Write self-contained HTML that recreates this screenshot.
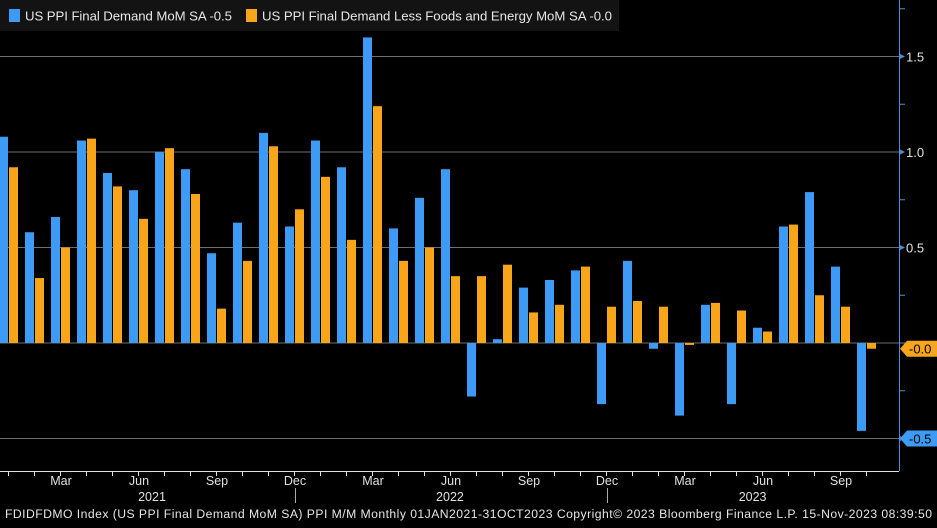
<!DOCTYPE html>
<html><head><meta charset="utf-8"><style>
body{margin:0;background:#000;width:937px;height:523px;overflow:hidden;font-family:"Liberation Sans",sans-serif}
svg text{font-family:"Liberation Sans",sans-serif}
</style></head><body>
<svg id="chart" width="937" height="523" xmlns="http://www.w3.org/2000/svg">
<rect x="0" y="0" width="937" height="523" fill="#000"/>
<g id="grid"></g><g id="bars"></g><g id="axes"></g>
<g>
<rect x="0" y="0" width="619" height="31" fill="#131313"/>
<rect x="9" y="9" width="11" height="13" fill="#3d9bf5"/>
<text x="25" y="20.5" fill="#e6e6e6" font-size="13.2" textLength="207">US PPI Final Demand MoM SA -0.5</text>
<rect x="246" y="9" width="11" height="13" fill="#f9a51a"/>
<text x="262" y="20.5" fill="#e6e6e6" font-size="13.2" textLength="350">US PPI Final Demand Less Foods and Energy MoM SA -0.0</text>
</g>
<text x="5" y="518" fill="#e6e6e6" font-size="12.2" textLength="927">FDIDFDMO Index (US PPI Final Demand MoM SA) PPI M/M  Monthly 01JAN2021-31OCT2023  Copyright© 2023 Bloomberg Finance L.P.  15-Nov-2023 08:39:50</text>
</svg>
<script>
const months=["Jan","Feb","Mar","Apr","May","Jun","Jul","Aug","Sep","Oct","Nov","Dec","Jan","Feb","Mar","Apr","May","Jun","Jul","Aug","Sep","Oct","Nov","Dec","Jan","Feb","Mar","Apr","May","Jun","Jul","Aug","Sep","Oct"];
const ppi=[1.08,0.58,0.66,1.06,0.89,0.80,1.00,0.91,0.47,0.63,1.10,0.61,1.06,0.92,1.60,0.60,0.76,0.91,-0.28,0.02,0.29,0.33,0.38,-0.32,0.43,-0.03,-0.38,0.20,-0.32,0.08,0.61,0.79,0.40,-0.46];
const core=[0.92,0.34,0.50,1.07,0.82,0.65,1.02,0.78,0.18,0.43,1.03,0.70,0.87,0.54,1.24,0.43,0.50,0.35,0.35,0.41,0.16,0.20,0.40,0.19,0.22,0.19,-0.01,0.21,0.17,0.06,0.62,0.25,0.19,-0.03];
const yTicks=[1.5,1.0,0.5,-0.5];
const yMinor=[1.75,1.25,0.75,0.25,0,-0.25];
const xLabels=[[2,"Mar"],[5,"Jun"],[8,"Sep"],[11,"Dec"],[14,"Mar"],[17,"Jun"],[20,"Sep"],[23,"Dec"],[26,"Mar"],[29,"Jun"],[32,"Sep"]];
const years=[[5.5,"2021"],[16.96,"2022"],[28.6,"2023"]];
const NS="http://www.w3.org/2000/svg";
const y=v=>343-v*191;
const xm=i=>-1+26*i;
function mk(p,t,a){const e=document.createElementNS(NS,t);for(const k in a)e.setAttribute(k,a[k]);p.appendChild(e);return e;}
const G=document.getElementById('grid'),B=document.getElementById('bars'),A=document.getElementById('axes');
[1.5,1.0,0.5,0,-0.5].forEach(v=>{const l=mk(G,'line',{x1:0,x2:899,y1:y(v),y2:y(v),stroke:'#6e6e6e','stroke-width':1});

});
ppi.forEach((v,i)=>{const r=mk(B,'rect',{x:xm(i),width:9,y:Math.min(y(v),y(0)),height:Math.max(1,Math.abs(y(v)-y(0))),fill:'#3d9bf5'});

});
core.forEach((v,i)=>{const r=mk(B,'rect',{x:xm(i)+10,width:9,y:Math.min(y(v),y(0)),height:Math.max(1,Math.abs(y(v)-y(0))),fill:'#f9a51a'});

});
const ax=mk(A,'line',{x1:899.5,x2:899.5,y1:0,y2:471,stroke:'#4a90d9','stroke-width':1});


const xa=mk(A,'line',{x1:0,x2:899,y1:471.5,y2:471.5,stroke:'#e0e0e0','stroke-width':1});


yTicks.forEach(v=>{mk(A,'path',{d:`M899,${y(v)-3}L905,${y(v)}L899,${y(v)+3}Z`,fill:'#4a90d9'});
const t=mk(A,'text',{x:906,y:y(v)+5,fill:'#e0e0e0','font-size':13});t.textContent=v.toFixed(1);

});
yMinor.forEach(v=>mk(A,'line',{x1:899,x2:905,y1:y(v),y2:y(v),stroke:'#4a90d9'}));
months.forEach((m,i)=>mk(A,'line',{x1:xm(i)+9.5,x2:xm(i)+9.5,y1:471,y2:476,stroke:'#e0e0e0'}));
xLabels.forEach(([i,s])=>{const t=mk(A,'text',{x:xm(i)+10,y:485,fill:'#e0e0e0','font-size':12.5,'text-anchor':'middle'});t.textContent=s;

});
years.forEach(([i,s])=>{const t=mk(A,'text',{x:xm(i)+10,y:501,fill:'#e0e0e0','font-size':12.5,'text-anchor':'middle'});t.textContent=s;

});
[11,23].forEach(i=>mk(A,'line',{x1:xm(i)+10.5,x2:xm(i)+10.5,y1:488,y2:503,stroke:'#aaa'}));
function tag(v,col,txt,nm){const yy=y(v);mk(A,'path',{d:`M900,${yy}L907,${yy-8}H937V${yy+8}H907Z`,fill:col});
const t=mk(A,'text',{x:909,y:yy+5,fill:'#000','font-size':13});t.textContent=txt;

}
tag(core[core.length-1],'#f9a51a','-0.0','last-value-core');
tag(ppi[ppi.length-1]-0.04,'#3d9bf5','-0.5','last-value-ppi');
</script>
</body></html>
